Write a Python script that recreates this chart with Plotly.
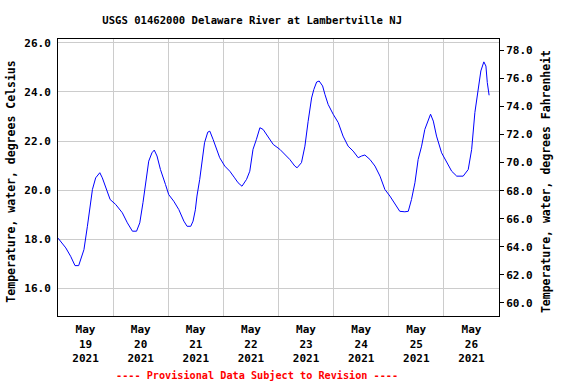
import pandas as pd
import plotly.graph_objects as go

# hours since 2021-05-19 00:00 and water temperature (deg C)
hours = [0.0, 3.4, 5.5, 7.4, 9.0, 9.4, 11.3, 12.8, 14.2, 15.0, 16.4, 17.8, 18.2, 19.3, 20.8, 22.7,
         25.1, 28.0, 30.2, 32.4, 34.2, 35.6, 37.0, 38.4, 39.5, 40.9, 41.9, 43.1, 44.6, 46.8, 48.2,
         50.4, 52.6, 54.8, 56.2, 57.8, 58.8, 59.8, 60.5, 61.7, 62.7, 63.8, 65.2, 66.1, 67.5, 69.0,
         70.4, 72.6, 74.8, 76.9, 78.4, 80.1, 82.1, 83.5, 84.9, 86.4, 87.9, 89.3, 91.5, 93.7, 96.6,
         98.8, 100.9, 103.1, 104.1, 106.0, 107.5, 108.9, 110.4, 111.4, 112.6, 113.7, 115.2, 116.2,
         117.6, 119.8, 122.0, 124.1, 126.3, 128.5, 130.7, 132.2, 133.6, 135.8, 138.0, 140.2, 142.3,
         144.5, 146.7, 148.8, 151.0, 152.5, 153.9, 155.4, 156.8, 158.3, 159.7, 161.2, 162.2, 163.4,
         164.8, 167.0, 169.2, 171.4, 173.6, 176.4, 178.6, 180.1, 181.5, 183.0, 184.1, 185.4, 186.3,
         186.9, 187.7]
temp_c = [18.05, 17.65, 17.31, 16.93, 16.93, 17.04, 17.58, 18.53, 19.49, 20.03, 20.5, 20.68, 20.71,
          20.5, 20.1, 19.62, 19.42, 19.08, 18.67, 18.33, 18.33, 18.67, 19.49, 20.44, 21.18, 21.52,
          21.63, 21.39, 20.84, 20.23, 19.82, 19.55, 19.21, 18.74, 18.53, 18.53, 18.74, 19.2, 19.76,
          20.44, 21.12, 21.93, 22.36, 22.4, 22.07, 21.66, 21.32, 20.98, 20.77, 20.5, 20.3, 20.16,
          20.44, 20.77, 21.66, 22.07, 22.54, 22.47, 22.14, 21.86, 21.66, 21.46, 21.25, 20.98, 20.91,
          21.12, 21.79, 22.8, 23.75, 24.1, 24.4, 24.44, 24.24, 23.9, 23.49, 23.09, 22.75, 22.2,
          21.79, 21.59, 21.32, 21.39, 21.43, 21.25, 20.98, 20.57, 20.03, 19.76, 19.42, 19.14, 19.12,
          19.14, 19.62, 20.3, 21.25, 21.79, 22.47, 22.88, 23.09, 22.81, 22.2, 21.52, 21.12, 20.77,
          20.57, 20.57, 20.84, 21.66, 23.16, 24.24, 24.85, 25.22, 25.05, 24.38, 23.86]

day_labels = ["May<br>19<br>2021", "May<br>20<br>2021", "May<br>21<br>2021", "May<br>22<br>2021",
              "May<br>23<br>2021", "May<br>24<br>2021", "May<br>25<br>2021", "May<br>26<br>2021"]
day_noon = pd.date_range("2021-05-19 12:00", periods=8, freq="D")
c_ticks = [16, 18, 20, 22, 24, 26]
f_ticks = [60, 62, 64, 66, 68, 70, 72, 74, 76, 78]

start = pd.Timestamp("2021-05-19")
times = [start + pd.Timedelta(hours=h) for h in hours]
temp_f = [c * 1.8 + 32 for c in temp_c]

FONT = "DejaVu Sans Mono"

fig = go.Figure()
fig.add_trace(go.Scatter(x=times, y=temp_c, mode="lines",
                         line=dict(color="#0000ff", width=1), showlegend=False))
fig.add_trace(go.Scatter(x=times, y=temp_f, mode="lines", yaxis="y2",
                         line=dict(color="rgba(0,0,0,0)", width=1), showlegend=False,
                         hoverinfo="skip"))

fig.update_layout(
    width=576, height=384,
    margin=dict(l=58, r=77, t=39, b=68),
    paper_bgcolor="white", plot_bgcolor="white",
    font=dict(family=FONT, size=11, color="black", weight="bold"),
    title=dict(text="USGS 01462000 Delaware River at Lambertville NJ",
               font=dict(family=FONT, size=10.6, color="black", weight="bold"),
               x=(252.5 - 58.3) / 441, xref="paper", xanchor="center",
               y=1 - 20 / 384, yref="container", yanchor="middle"),
    xaxis=dict(
        range=[start, start + pd.Timedelta(days=8)],
        tickmode="array", tickvals=list(day_noon), ticktext=day_labels,
        ticks="", showgrid=False,
        showline=True, linecolor="black", linewidth=1, mirror=True,
        minor=dict(tickmode="linear", tick0=start, dtick=86400000,
                   showgrid=True, gridcolor="#cccccc", gridwidth=1, ticks=""),
        tickfont=dict(family=FONT, size=11, weight="bold"),
        ticklabelstandoff=3,
        zeroline=False,
    ),
    yaxis=dict(
        range=[14.88, 26.15], tickmode="array", tickvals=c_ticks,
        tickformat=".1f", ticks="", showgrid=True, gridcolor="#cccccc", gridwidth=1,
        showline=True, linecolor="black", linewidth=1, mirror=True,
        zeroline=False, ticklabelstandoff=4,
        tickfont=dict(family=FONT, size=11, weight="bold"),
    ),
    yaxis2=dict(
        overlaying="y", side="right",
        range=[59.07, 78.81], tickmode="array", tickvals=f_ticks,
        tickformat=".1f", ticks="outside", ticklen=4, tickcolor="black",
        showgrid=False, zeroline=False, showline=False,
        tickfont=dict(family=FONT, size=11, weight="bold"),
    ),
    annotations=[
        dict(text="Temperature, water, degrees Celsius", textangle=-90,
             xref="paper", yref="paper", x=(11 - 58.3) / 441, y=0.484,
             xanchor="center", yanchor="middle", showarrow=False,
             font=dict(family=FONT, size=11.5, color="black", weight="bold")),
        dict(text="Temperature, water, degrees Fahrenheit", textangle=-90,
             xref="paper", yref="paper", x=(547 - 58.3) / 441, y=0.486,
             xanchor="center", yanchor="middle", showarrow=False,
             font=dict(family=FONT, size=11.5, color="black", weight="bold")),
        dict(text="---- Provisional Data Subject to Revision ----",
             xref="paper", yref="paper", x=(257.5 - 58.3) / 441, y=(316 - 375) / 276.7,
             xanchor="center", yanchor="middle", showarrow=False,
             font=dict(family=FONT, size=10.2, color="#ff0000", weight="bold")),
    ],
)

fig.write_html("out.html", config={"displayModeBar": False},
               post_script="document.body.style.margin='0';document.body.style.padding='0';")
